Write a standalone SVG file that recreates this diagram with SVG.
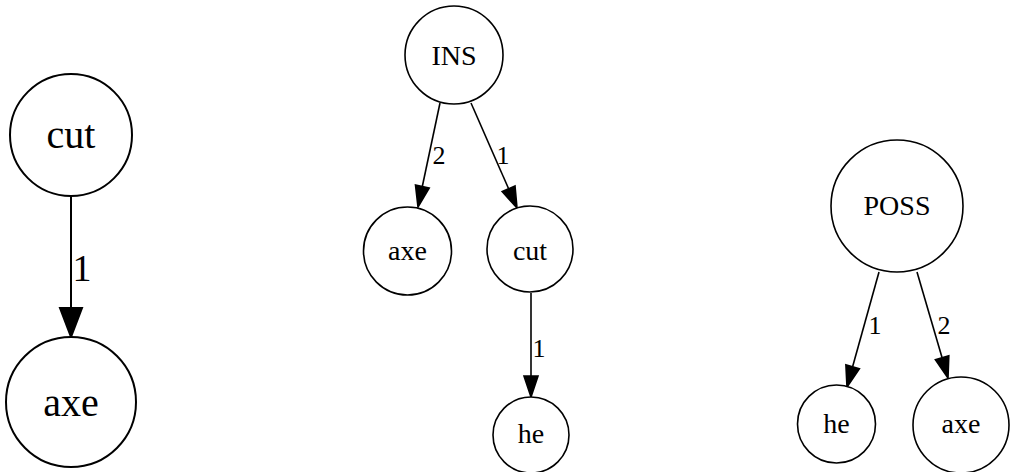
<svg xmlns="http://www.w3.org/2000/svg" width="1013" height="472" viewBox="0 0 1013 472">
  <style>
    .node circle { fill: #ffffff; stroke: #000000; }
    .node text { font-family: "Liberation Serif", "Times New Roman", serif; text-anchor: middle; fill: #000000; }
    .edge line { stroke: #000000; }
    .edge polygon { fill: #000000; stroke: #000000; }
    .edge text { font-family: "Liberation Serif", "Times New Roman", serif; text-anchor: middle; fill: #000000; }
    .big circle, .big line, .big polygon { stroke-width: 2; }
    .big text { font-size: 40px; }
    .big .edge text { font-size: 38px; }
    .small circle, .small line, .small polygon { stroke-width: 1.6; }
    .small text { font-size: 28px; }
    .small .edge text { font-size: 26px; }
  </style>

  <!-- Tree 1: cut -> axe -->
  <g id="tree-cut" class="big">
    <g id="connectors-1" class="edge">
      <line x1="71" y1="196" x2="71" y2="308"/>
      <polygon points="60,308 82,308 71,337"/>
      <text x="82" y="281">1</text>
    </g>
    <g id="n1-cut" class="node">
      <circle cx="71" cy="135" r="61"/>
      <text x="71" y="148">cut</text>
    </g>
    <g id="n1-axe" class="node">
      <circle cx="71" cy="402" r="65"/>
      <text x="71" y="416">axe</text>
    </g>
  </g>

  <!-- Tree 2: INS -> axe, cut; cut -> he -->
  <g id="tree-ins" class="small">
    <g id="connectors-2" class="edge">
      <line x1="440" y1="103" x2="422.3" y2="186.5"/>
      <polygon points="429.2,188 415.5,185 418,207"/>
      <text x="439" y="164">2</text>
      <line x1="471" y1="103" x2="508.6" y2="188.8"/>
      <polygon points="515,186 502.2,191.6 517,208"/>
      <text x="503" y="164">1</text>
      <line x1="531" y1="293" x2="531" y2="376"/>
      <polygon points="524,376 538,376 531,397"/>
      <text x="539" y="357">1</text>
    </g>
    <g id="n2-ins" class="node">
      <circle cx="454" cy="55" r="49"/>
      <text x="454" y="65">INS</text>
    </g>
    <g id="n2-axe" class="node">
      <circle cx="407.5" cy="251" r="44"/>
      <text x="407.5" y="260">axe</text>
    </g>
    <g id="n2-cut" class="node">
      <circle cx="530" cy="249" r="43"/>
      <text x="530" y="260">cut</text>
    </g>
    <g id="n2-he" class="node">
      <circle cx="531" cy="435" r="38"/>
      <text x="531" y="443">he</text>
    </g>
  </g>

  <!-- Tree 3: POSS -> he, axe -->
  <g id="tree-poss" class="small">
    <g id="connectors-3" class="edge">
      <line x1="879" y1="272" x2="852.6" y2="366.8"/>
      <polygon points="859.4,368.7 845.9,364.9 847,387"/>
      <text x="875" y="334">1</text>
      <line x1="917" y1="272" x2="942.1" y2="357.8"/>
      <polygon points="948.8,355.8 935.4,359.8 948,378"/>
      <text x="944" y="334">2</text>
    </g>
    <g id="n3-poss" class="node">
      <circle cx="897" cy="206" r="66"/>
      <text x="897" y="215">POSS</text>
    </g>
    <g id="n3-he" class="node">
      <circle cx="836.5" cy="424" r="39"/>
      <text x="836.5" y="433">he</text>
    </g>
    <g id="n3-axe" class="node">
      <circle cx="961" cy="425" r="48"/>
      <text x="961" y="433">axe</text>
    </g>
  </g>
</svg>
